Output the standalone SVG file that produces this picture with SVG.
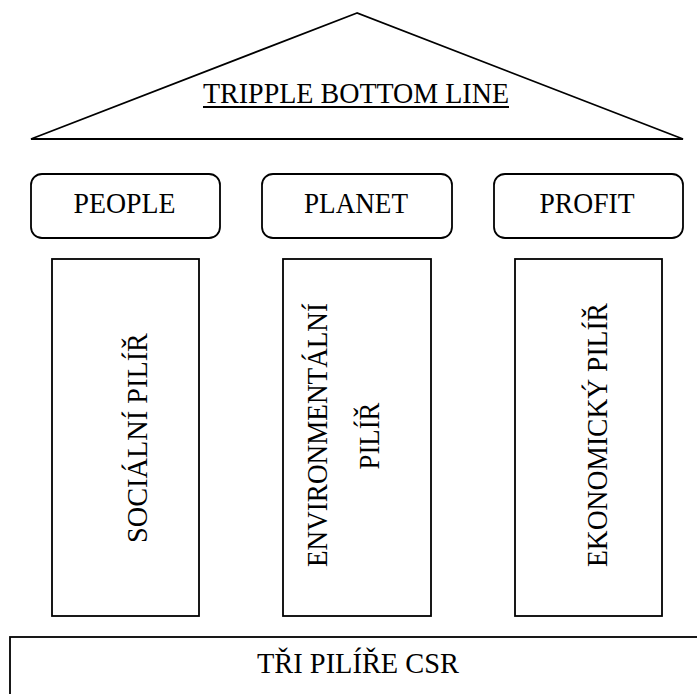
<svg xmlns="http://www.w3.org/2000/svg" width="697" height="694" viewBox="0 0 697 694">
<style>
.s{fill:#fff;stroke:#000;stroke-width:1.8}
.t{font-family:'Liberation Serif','Times New Roman',serif;font-size:30px;fill:#000;text-anchor:middle}
</style>
<rect width="697" height="694" fill="#fff"/>
<g id="roof">
<polygon class="s" points="357,13 31,139 683,139"/>
<text class="t" x="356" y="103" textLength="306" lengthAdjust="spacingAndGlyphs">TRIPPLE BOTTOM LINE</text>
<line x1="203" y1="107" x2="509" y2="107" stroke="#000" stroke-width="1.8"/>
</g>
<g id="people">
<rect class="s" x="31" y="174" width="189" height="64" rx="11"/>
<text class="t" x="124.5" y="213" textLength="102" lengthAdjust="spacingAndGlyphs">PEOPLE</text>
</g>
<g id="planet">
<rect class="s" x="262" y="174" width="190" height="64" rx="11"/>
<text class="t" x="356" y="213" textLength="104" lengthAdjust="spacingAndGlyphs">PLANET</text>
</g>
<g id="profit">
<rect class="s" x="494" y="174" width="189" height="64" rx="11"/>
<text class="t" x="587" y="213" textLength="95" lengthAdjust="spacingAndGlyphs">PROFIT</text>
</g>
<g id="social">
<rect class="s" x="52" y="259" width="147" height="357"/>
<text class="t" transform="translate(147,438) rotate(-90)" textLength="210" lengthAdjust="spacingAndGlyphs">SOCIÁLNÍ PILÍŘ</text>
</g>
<g id="environmental">
<rect class="s" x="283" y="259" width="148" height="357"/>
<text class="t" transform="translate(327,435) rotate(-90)" textLength="264" lengthAdjust="spacingAndGlyphs">ENVIRONMENTÁLNÍ</text>
<text class="t" transform="translate(379,436) rotate(-90)" textLength="67" lengthAdjust="spacingAndGlyphs">PILÍŘ</text>
</g>
<g id="economic">
<rect class="s" x="515" y="259" width="147" height="357"/>
<text class="t" transform="translate(607,435) rotate(-90)" textLength="264" lengthAdjust="spacingAndGlyphs">EKONOMICKÝ PILÍŘ</text>
</g>
<g id="base">
<rect class="s" x="10" y="637" width="700" height="70"/>
<text class="t" x="358" y="673" textLength="202" lengthAdjust="spacingAndGlyphs">TŘI PILÍŘE CSR</text>
</g>
<g id="connectors"/>
</svg>
